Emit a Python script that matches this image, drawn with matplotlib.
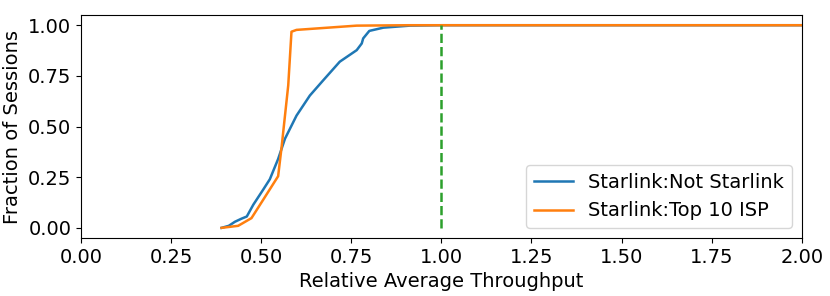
import numpy as np
import matplotlib
matplotlib.use("Agg")
from matplotlib import pyplot as plt

# CDF of relative average throughput
not_starlink_x = [0.39, 0.41, 0.427, 0.445, 0.46, 0.478, 0.506, 0.524, 0.547, 0.566, 0.598,
                  0.635, 0.672, 0.718, 0.765, 0.779, 0.783, 0.80, 0.839, 0.913, 1.0, 2.0]
not_starlink_y = [0.0, 0.01, 0.03, 0.045, 0.056, 0.114, 0.19, 0.24, 0.34, 0.44, 0.554,
                  0.653, 0.728, 0.82, 0.877, 0.91, 0.935, 0.972, 0.988, 0.998, 1.0, 1.0]

top10_x = [0.39, 0.436, 0.473, 0.506, 0.547, 0.557, 0.575, 0.584, 0.598, 0.765, 0.91, 2.0]
top10_y = [0.0, 0.01, 0.048, 0.14, 0.255, 0.405, 0.703, 0.968, 0.977, 0.998, 1.0, 1.0]

ref_x = [1.0, 1.0]
ref_y = [0.0, 1.0]

plt.rcParams['font.size'] = 14
fig, ax = plt.subplots(figsize=(8.3, 2.96), dpi=100)
ax.plot(not_starlink_x, not_starlink_y, lw=1.8, label='Starlink:Not Starlink')
ax.plot(top10_x, top10_y, lw=1.8, label='Starlink:Top 10 ISP')
ax.plot(ref_x, ref_y, '--', lw=1.8, color='C2')
ax.set_xlim(0, 2)
ax.set_xticks(np.arange(0, 2.01, 0.25))
ax.set_yticks([0, 0.25, 0.5, 0.75, 1.0])
ax.set_xlabel('Relative Average Throughput')
ax.set_ylabel('Fraction of Sessions')
ax.legend(loc='lower right')
fig.subplots_adjust(left=0.0976, right=0.966, top=0.949, bottom=0.196)
fig.savefig('out.png')
